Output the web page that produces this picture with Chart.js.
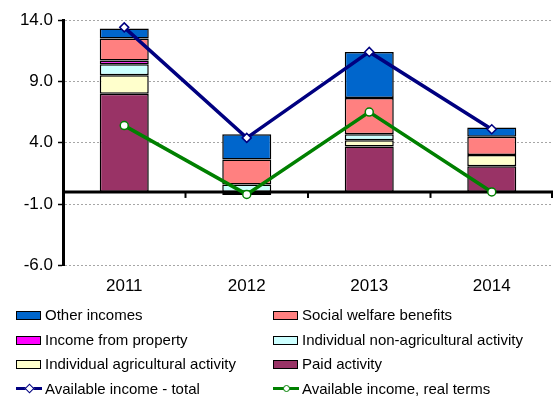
<!DOCTYPE html>
<html lang="en">
  <head>
    <meta charset="UTF-8" />
    <title>income</title>
    <script src="https://cdn.jsdelivr.net/npm/chart.js@4.4.0/dist/chart.umd.min.js"></script>
    <style>
      body { margin: 0; background: #fff; font-family: "Liberation Sans", Arial, sans-serif; }
      .wrap { position: relative; width: 559px; height: 399px; }
      #incomeChart { position: absolute; left: 0; top: 0; }
      .legend { position: absolute; left: 0; top: 0; width: 559px; height: 399px; pointer-events: none; }
      .item { position: absolute; height: 20px; line-height: 20px; font-size: 15px; color: #000; white-space: nowrap; }
      .item .sw { position: absolute; left: 0; top: 6px; width: 23px; height: 7px; border: 1.5px solid #000; }
      .item .ln { position: absolute; left: 0; top: 8px; width: 26px; height: 3.5px; }
      .item .mk { position: absolute; left: 10px; top: 6px; width: 5px; height: 5px; background: #fff; border: 1.5px solid; }
      .item span.t { position: absolute; left: 29px; top: 0; }
    </style>
  </head>
  <body>
    <div class="wrap">
      <canvas id="incomeChart" width="559" height="300"></canvas>
      <div class="legend" id="legend"></div>
    </div>
    <script>
      const years = ["2011", "2012", "2013", "2014"];
      const yTicks = [-6, -1, 4, 9, 14];

      // stacked components, bottom to top
      const paidActivity = [8.0, 0, 3.7, 2.1];
      const agricultural = [1.5, 0, 0.5, 0.9];
      const nonAgricultural = [0.9, 0.6, 0.5, 0];
      const property = [0.3, -0.25, 0, 0];
      const socialWelfare = [1.8, 2.05, 2.95, 1.5];
      const otherIncomes = [0.8, 2.05, 3.75, 0.75];

      const totalIncome = [13.4, 4.4, 11.4, 5.1];
      const realIncome = [5.4, -0.2, 6.5, 0.0];

      const barSeries = [
        { label: "Paid activity", data: paidActivity, color: "#993366" },
        { label: "Individual agricultural activity", data: agricultural, color: "#FFFFCC" },
        { label: "Individual non-agricultural activity", data: nonAgricultural, color: "#CCFFFF" },
        { label: "Income from property", data: property, color: "#FF00FF" },
        { label: "Social welfare benefits", data: socialWelfare, color: "#FF8080" },
        { label: "Other incomes", data: otherIncomes, color: "#0066CC" },
      ];
      const lineSeries = [
        { label: "Available income - total", data: totalIncome, color: "#000080", marker: "rectRot" },
        { label: "Available income, real terms", data: realIncome, color: "#008000", marker: "circle" },
      ];

      const datasets = [];
      barSeries.forEach(function (s) {
        datasets.push({
          type: "bar",
          label: s.label,
          data: s.data,
          backgroundColor: s.color,
          borderColor: "#000",
          borderWidth: 1.5,
          borderSkipped: false,
          categoryPercentage: 0.8,
          barPercentage: 0.5,
          stack: "bars",
          order: 1,
        });
      });
      lineSeries.forEach(function (s, i) {
        datasets.push({
          type: "line",
          label: s.label,
          data: s.data,
          borderColor: s.color,
          borderWidth: 3.5,
          pointStyle: s.marker,
          pointRadius: s.marker === "circle" ? 4 : 4.5,
          pointBackgroundColor: "#fff",
          pointBorderColor: s.color,
          pointBorderWidth: 1.5,
          tension: 0,
          stack: "line" + i, // lines are not stacked
          order: 0,
        });
      });

      // zero axis drawn above the bars but under the lines
      let axisDone = false;
      const zeroAxis = {
        id: "zeroAxis",
        beforeDatasetsDraw: function () { axisDone = false; },
        beforeDatasetDraw: function (chart, args) {
          if (axisDone || args.meta.type !== "line") return;
          axisDone = true;
          const ctx = chart.ctx;
          const area = chart.chartArea;
          const x = chart.scales.x;
          const y0 = chart.scales.y.getPixelForValue(0);
          ctx.save();
          ctx.strokeStyle = "#000";
          ctx.lineWidth = 3;
          ctx.beginPath();
          ctx.moveTo(area.left, y0);
          ctx.lineTo(area.right, y0);
          ctx.stroke();
          ctx.lineWidth = 2;
          for (let i = 0; i < years.length; i++) {
            const bx = i < years.length - 1 ? (x.getPixelForValue(i) + x.getPixelForValue(i + 1)) / 2 : area.right - 1;
            ctx.beginPath();
            ctx.moveTo(bx, y0);
            ctx.lineTo(bx, y0 + 6);
            ctx.stroke();
          }
          ctx.restore();
        },
      };

      const font = { family: "'Liberation Sans', Arial, sans-serif", size: 17 };
      const ctx = document.querySelector("#incomeChart").getContext("2d");
      const incomeChart = new Chart(ctx, {
        data: { labels: years, datasets: datasets },
        plugins: [zeroAxis],
        options: {
          responsive: false,
          animation: false,
          layout: { padding: { top: 20, right: 3, bottom: 0, left: 0 } },
          plugins: { legend: { display: false }, tooltip: { enabled: false } },
          scales: {
            x: {
              stacked: true,
              grid: { display: false },
              border: { display: false },
              ticks: { color: "#000", font: font, padding: 3 },
            },
            y: {
              stacked: true,
              min: -6,
              max: 14,
              afterBuildTicks: function (scale) {
                scale.ticks = yTicks.map(function (v) { return { value: v }; });
              },
              afterFit: function (scale) { scale.width = 63; },
              grid: { color: "#A6A6A6", lineWidth: 1, tickColor: "#000", tickWidth: 1.5, tickLength: 5 },
              border: { display: true, color: "#000", width: 3, dash: [2, 2] },
              ticks: {
                color: "#000",
                font: font,
                padding: 5,
                callback: function (v) { return Number(v).toFixed(1); },
              },
            },
          },
        },
      });

      // two-column legend below the plot
      const legendEl = document.querySelector("#legend");
      const legendItems = barSeries.slice().reverse().map(function (s) { return { label: s.label, color: s.color, line: false }; })
        .concat(lineSeries.map(function (s) { return { label: s.label, color: s.color, line: true, marker: s.marker }; }));
      legendItems.forEach(function (it, i) {
        const el = document.createElement("div");
        el.className = "item";
        el.style.left = (i % 2 === 0 ? 16 : 273) + "px";
        el.style.top = (305 + Math.floor(i / 2) * 24.5) + "px";
        if (it.line) {
          const ln = document.createElement("div");
          ln.className = "ln";
          ln.style.background = it.color;
          el.appendChild(ln);
          const mk = document.createElement("div");
          mk.className = "mk";
          mk.style.borderColor = it.color;
          if (it.marker === "circle") mk.style.borderRadius = "50%";
          else mk.style.transform = "rotate(45deg)";
          el.appendChild(mk);
        } else {
          const sw = document.createElement("div");
          sw.className = "sw";
          sw.style.background = it.color;
          el.appendChild(sw);
        }
        const t = document.createElement("span");
        t.className = "t";
        t.textContent = it.label;
        el.appendChild(t);
        legendEl.appendChild(el);
      });
    </script>
  </body>
</html>
